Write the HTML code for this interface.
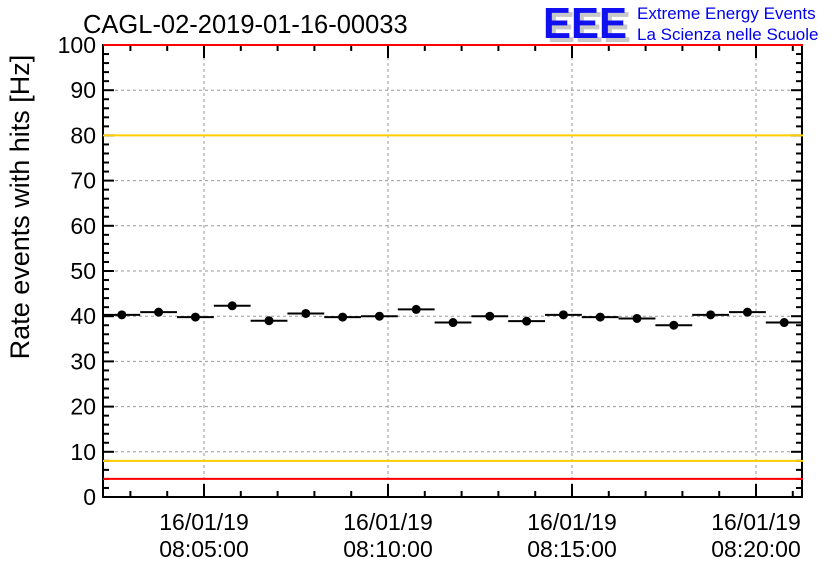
<!DOCTYPE html>
<html><head><meta charset="utf-8"><style>
html,body{margin:0;padding:0;background:#fff;}
svg{display:block;font-family:"Liberation Sans",Arial,sans-serif;}
</style></head><body>
<svg id="chart" width="836" height="572" viewBox="0 0 836 572">
<rect x="0" y="0" width="836" height="572" fill="#fff"/>
<text x="83" y="33" font-size="25.5">CAGL-02-2019-01-16-00033</text>
<g>
<text x="547" y="42" font-size="44" font-weight="bold" fill="#c8c8c8" textLength="84" lengthAdjust="spacingAndGlyphs">EEE</text>
<text x="543" y="38" font-size="44" font-weight="bold" fill="#1010f0" textLength="84" lengthAdjust="spacingAndGlyphs">EEE</text>
<text x="637" y="19" font-size="17" fill="#0000ee">Extreme Energy Events</text>
<text x="637" y="40" font-size="17" fill="#0000ee">La Scienza nelle Scuole</text>
</g>
<g id="grid"></g>
<g id="axes"></g>
<g id="refs"></g>
<g id="marks"></g>
<text transform="translate(29,207) rotate(-90)" text-anchor="middle" font-size="27">Rate events with hits [Hz]</text>
</svg>
<script>
const values=[40.3,40.9,39.8,42.3,39.0,40.6,39.8,40.0,41.5,38.6,40.0,38.9,40.3,39.8,39.5,38.0,40.3,40.9,38.6];
const binStart=-164; // seconds relative to 08:05:00 of first bin's left edge
const binWidth=60;
const yTicks=[0,10,20,30,40,50,60,70,80,90,100];
const xTickSecs=[0,300,600,900];
const xTickDate=["16/01/19","16/01/19","16/01/19","16/01/19"];
const xTickTime=["08:05:00","08:10:00","08:15:00","08:20:00"];
const refRed=[100,4];
const refYellow=[80,8];

const L=103,R=802,T=45,B=497;
const sy=v=>B-(v/100)*(B-T);
const sx=s=>204+s*184/300;
const NS="http://www.w3.org/2000/svg";
function mk(parent,tag,attrs){const e=document.createElementNS(NS,tag);for(const k in attrs)e.setAttribute(k,attrs[k]);document.getElementById(parent).appendChild(e);return e;}

yTicks.forEach(v=>{if(v>0&&v<100){const e=mk('grid','line',{x1:L,x2:R,y1:sy(v),y2:sy(v),stroke:'#999','stroke-dasharray':'3,3','stroke-width':1});

}});
xTickSecs.forEach(s=>{const e=mk('grid','line',{x1:sx(s),x2:sx(s),y1:T,y2:B,stroke:'#999','stroke-dasharray':'3,3','stroke-width':1});

});
const fr=mk('axes','rect',{x:L,y:T,width:R-L,height:B-T,fill:'none',stroke:'#000','stroke-width':2});


for(let v=0;v<=100;v+=2){const major=v%10===0;const len=major?11:6;
mk('axes','line',{x1:L,x2:L+len,y1:sy(v),y2:sy(v),stroke:'#000','stroke-width':2});
mk('axes','line',{x1:R,x2:R-len,y1:sy(v),y2:sy(v),stroke:'#000','stroke-width':2});}
yTicks.forEach(v=>{const t=mk('axes','text',{x:L-7,y:sy(v)+8,'text-anchor':'end','font-size':23});t.textContent=v;

});
for(let s=-60*2;s<=1100;s+=60){const x=sx(s);if(x<L||x>R)continue;const major=s%300===0;const len=major?13:6;
mk('axes','line',{x1:x,x2:x,y1:B,y2:B-len,stroke:'#000','stroke-width':2});
mk('axes','line',{x1:x,x2:x,y1:T,y2:T+len,stroke:'#000','stroke-width':2});}
xTickSecs.forEach((s,i)=>{const a=mk('axes','text',{x:sx(s),y:530,'text-anchor':'middle','font-size':23});a.textContent=xTickDate[i];


const b=mk('axes','text',{x:sx(s),y:557,'text-anchor':'middle','font-size':23});b.textContent=xTickTime[i];

});
refYellow.forEach(v=>{const e=mk('refs','line',{x1:L,x2:R+1,y1:sy(v),y2:sy(v),stroke:'#ffcc00','stroke-width':2});

});
refRed.forEach(v=>{const e=mk('refs','line',{x1:L,x2:R+1,y1:sy(v),y2:sy(v),stroke:'#ff0000','stroke-width':2});

});
values.forEach((v,i)=>{const x0=sx(binStart+i*binWidth),x1=sx(binStart+(i+1)*binWidth),xc=(x0+x1)/2;
const ln=mk('marks','line',{x1:x0,x2:x1,y1:sy(v),y2:sy(v),stroke:'#000','stroke-width':2});


const c=mk('marks','circle',{cx:xc,cy:sy(v),r:4.5,fill:'#000'});

});
</script>
</body></html>
